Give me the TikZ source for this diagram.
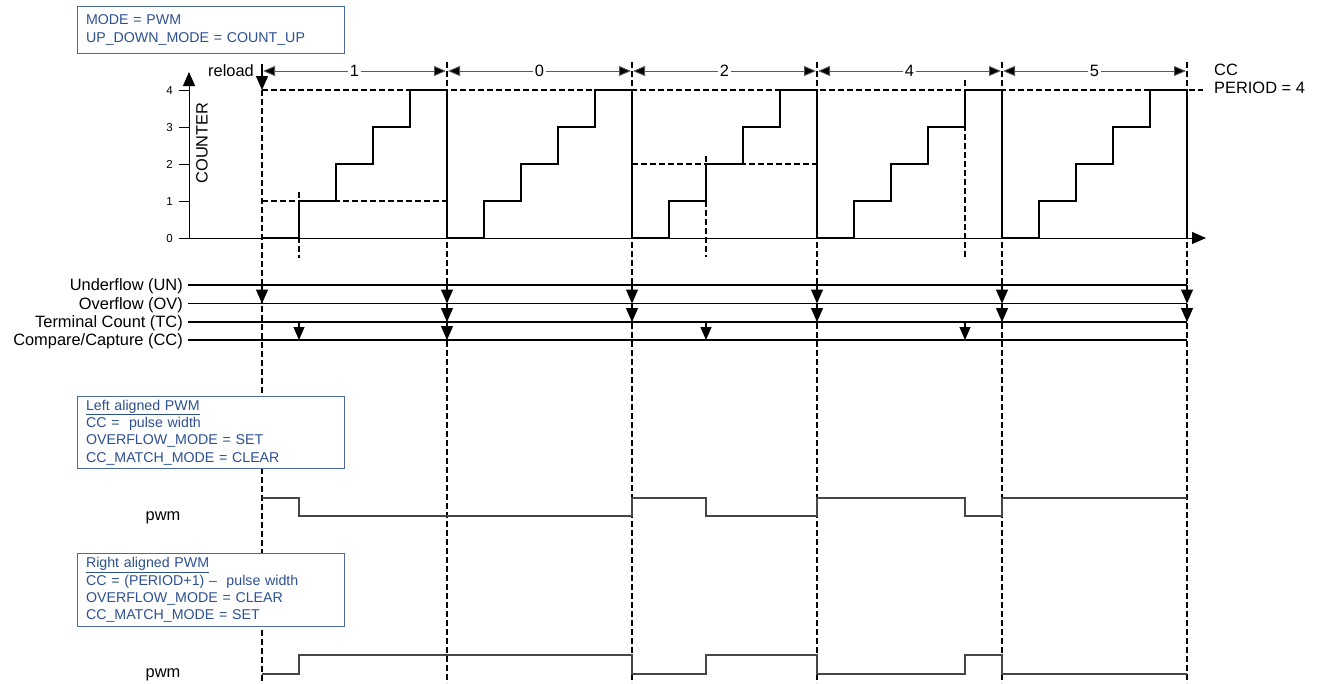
\documentclass[tikz,border=0pt]{standalone}
\usepackage{fontspec}
\setmainfont{Liberation Sans}
\usetikzlibrary{arrows.meta}
\definecolor{boxblue}{RGB}{45,80,145}
\definecolor{boxline}{RGB}{75,105,155}
\definecolor{wavegray}{RGB}{70,70,70}
\begin{document}
\begin{tikzpicture}[x=1pt,y=-1pt,
  lbl/.style={font=\fontsize{16.4}{19}\selectfont, inner sep=0pt},
  ticklbl/.style={font=\fontsize{11.5}{13}\selectfont, inner sep=0pt, anchor=base east},
  infobox/.style={draw=boxline, line width=1.1pt, fill=white, text=boxblue,
    font=\fontsize{14.2}{17.3}\selectfont, align=left, text width=250pt,
    inner xsep=8.5pt, inner ysep=0pt, anchor=north west},
  gridline/.style={line width=1.4pt, dash pattern=on 6pt off 3pt},
  axisline/.style={line width=1pt},
  stair/.style={line width=2pt},
  sigline/.style={line width=1.1pt},
  bigtip/.style={-{Triangle[length=14pt,width=12pt]}},
  smalltip/.style={-{Triangle[length=13pt,width=11pt]}},
  dimline/.style={line width=0.9pt, draw=black!65,
    {Triangle[length=12pt,width=10pt,fill=black]}-{Triangle[length=12pt,width=10pt,fill=black]}},
  wave/.style={line width=1.2pt, draw=wavegray}
]
\useasboundingbox (0,0) rectangle (1320,683);

% ---- guide (dashed) lines ----
\draw[gridline] (262,90) -- (262,683);
\foreach \i in {1,...,5}
  \draw[gridline] ({262+185*\i},62) -- ({262+185*\i},683);
\draw[gridline] (262,90) -- (1203,90);
\draw[gridline] (262,201) -- (447,201);
\draw[gridline] (632,164) -- (817,164);
\draw[gridline] (299,192) -- (299,258);
\draw[gridline] (706,156) -- (706,257);
\draw[gridline] (965,80) -- (965,257);

% ---- axes ----
\coordinate (origin) at (189,238);
\coordinate (ytop) at (189,72);
\coordinate (xend) at (1206,238);
\draw[axisline, bigtip] (origin) -- (ytop);
\draw[axisline, bigtip] (origin) -- (xend);
\foreach \v in {0,...,4} {
  \draw[axisline] (179,{238-37*\v}) -- (189,{238-37*\v});
  \node[ticklbl] (tick\v) at (173,{238-37*\v+4.2}) {\v};
}
\node[lbl, rotate=90] (counter) at (202,143) {COUNTER};

% ---- staircase ----
\foreach \i in {0,...,4} {
  \draw[stair] ({262+185*\i},238) -- ++(37,0) -- ++(0,-37) -- ++(37,0) -- ++(0,-37)
    -- ++(37,0) -- ++(0,-37) -- ++(37,0) -- ++(0,-37) -- ++(37,0) -- ++(0,148);
}

% ---- reload ----
\coordinate (reloadtop) at (262,64);
\coordinate (reloadtip) at (262,90);
\draw[sigline, bigtip] (reloadtop) -- (reloadtip);
\node[lbl, anchor=base east] (reload) at (254,76.7) {reload};

% ---- period dimension arrows ----
\foreach \i/\lab in {0/1,1/0,2/2,3/4,4/5} {
  \coordinate (da\i) at ({262+185*\i+1},71);
  \coordinate (db\i) at ({262+185*\i+184},71);
  \draw[dimline] (da\i) -- (db\i);
  \node[lbl, anchor=base, fill=white, inner xsep=1.5pt] (dim\i) at ({262+185*\i+92.5},76.7) {\lab};
}
\node[lbl, anchor=base west] (cclbl) at (1214,75.8) {CC};
\node[lbl, anchor=base west] (periodlbl) at (1214,93.8) {PERIOD = 4};

% ---- event lines ----
\node[lbl, anchor=base east] (un) at (183,290.5) {Underflow (UN)};
\node[lbl, anchor=base east] (ov) at (183,309) {Overflow (OV)};
\node[lbl, anchor=base east] (tc) at (183,327.5) {Terminal Count (TC)};
\node[lbl, anchor=base east] (cc) at (183,345.5) {Compare/Capture (CC)};
\draw[sigline] (188,285) -- (1187,285);
\draw[sigline] (188,303.5) -- (1187,303.5);
\draw[sigline] (188,322) -- (1187,322);
\draw[sigline] (188,340) -- (1187,340);
\foreach \i in {0,...,5}
  \draw[sigline, bigtip] ({262+185*\i},285) -- ({262+185*\i},303.5);
\foreach \i in {1,...,5}
  \draw[sigline, bigtip] ({262+185*\i},303.5) -- ({262+185*\i},322);
\draw[sigline, bigtip] (447,322) -- (447,340);
\foreach \x in {299,706,965}
  \draw[sigline, smalltip] (\x,322) -- (\x,340);

% ---- info boxes ----
\node[infobox, minimum height=47pt] (modebox) at (77,6)
  {MODE = PWM\\UP\_DOWN\_MODE = COUNT\_UP};
\node[infobox, minimum height=72pt] (leftbox) at (77,396)
  {\underline{Left aligned PWM}\\CC = \ pulse width\\OVERFLOW\_MODE = SET\\CC\_MATCH\_MODE = CLEAR};
\node[infobox, minimum height=73pt] (rightbox) at (77,553)
  {\underline{Right aligned PWM}\\CC = (PERIOD+1) -- \ pulse width\\OVERFLOW\_MODE = CLEAR\\CC\_MATCH\_MODE = SET};

% ---- pwm waveforms ----
\node[lbl, anchor=base] (pwmleft) at (163,520.5) {pwm};
\node[lbl, anchor=base] (pwmright) at (163,677.5) {pwm};
\draw[wave] (262,498) -- (299,498) -- (299,516) -- (632,516) -- (632,498) -- (706,498)
  -- (706,516) -- (817,516) -- (817,498) -- (965,498) -- (965,516) -- (1002,516)
  -- (1002,498) -- (1187,498);
\draw[wave] (262,674) -- (299,674) -- (299,655) -- (632,655) -- (632,674) -- (706,674)
  -- (706,655) -- (817,655) -- (817,674) -- (965,674) -- (965,655) -- (1002,655)
  -- (1002,674) -- (1187,674);
\end{tikzpicture}
\end{document}
